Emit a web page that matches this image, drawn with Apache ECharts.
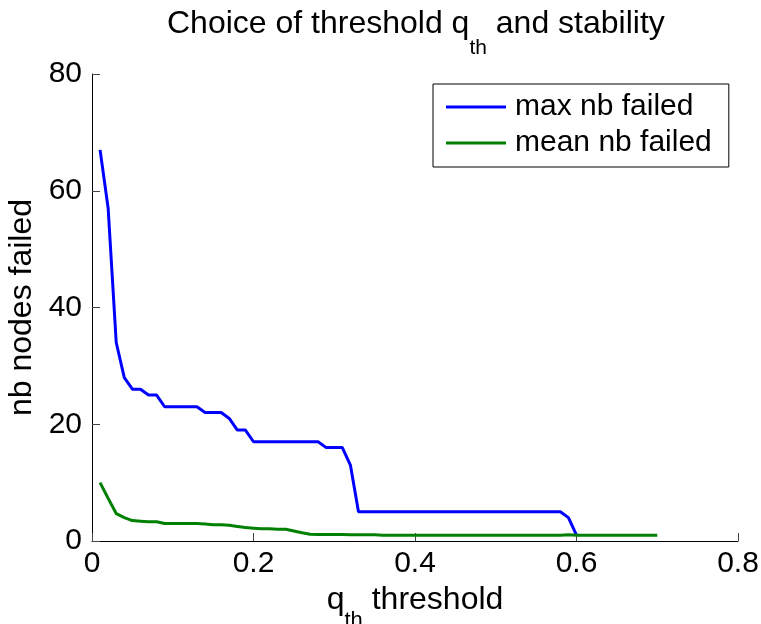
<!DOCTYPE html>
<html>
<head>
<meta charset="utf-8">
<script src="https://cdn.jsdelivr.net/npm/echarts@6/dist/echarts.min.js"></script>
<style>
  html, body { margin: 0; padding: 0; background: #fff; }
  #chart { width: 761px; height: 624px; }
</style>
</head>
<body>
<div id="chart"></div>
<script>
const qth = [
  0.01, 0.02, 0.03, 0.04, 0.05, 0.06, 0.07, 0.08, 0.09, 0.10,
  0.11, 0.12, 0.13, 0.14, 0.15, 0.16, 0.17, 0.18, 0.19, 0.20,
  0.21, 0.22, 0.23, 0.24, 0.25, 0.26, 0.27, 0.28, 0.29, 0.30,
  0.31, 0.32, 0.33, 0.34, 0.35, 0.36, 0.37, 0.38, 0.39, 0.40,
  0.41, 0.42, 0.43, 0.44, 0.45, 0.46, 0.47, 0.48, 0.49, 0.50,
  0.51, 0.52, 0.53, 0.54, 0.55, 0.56, 0.57, 0.58, 0.59, 0.60,
  0.61, 0.62, 0.63, 0.64, 0.65, 0.66, 0.67, 0.68, 0.69, 0.70
]

// max nb failed, 0.01 .. 0.60
const maxFailed = [
  67, 57, 34, 28, 26, 26, 25, 25, 23, 23,
  23, 23, 23, 22, 22, 22, 21, 19, 19, 17,
  17, 17, 17, 17, 17, 17, 17, 17, 16, 16,
  16, 13, 5, 5, 5, 5, 5, 5, 5, 5,
  5, 5, 5, 5, 5, 5, 5, 5, 5, 5,
  5, 5, 5, 5, 5, 5, 5, 5, 4, 1
]

// mean nb failed, 0.01 .. 0.70
const meanFailed = [
  10, 7.3, 4.7, 4.0, 3.5, 3.4, 3.3, 3.3, 3.0, 3.0,
  3.0, 3.0, 3.0, 2.9, 2.8, 2.8, 2.7, 2.5, 2.3, 2.2,
  2.1, 2.1, 2.0, 2.0, 1.7, 1.4, 1.15, 1.1, 1.1, 1.1,
  1.1, 1.05, 1.05, 1.05, 1.05, 1.0, 1.0, 1.0, 1.0, 1.0,
  1.0, 1.0, 1.0, 1.0, 1.0, 1.0, 1.0, 1.0, 1.0, 1.0,
  1.0, 1.0, 1.0, 1.0, 1.0, 1.0, 1.0, 1.0, 1.05, 1.0,
  1.0, 1.0, 1.0, 1.0, 1.0, 1.0, 1.0, 1.0, 1.0, 1.0
]

const xTicks = { min: 0, max: 0.8, interval: 0.2 }
const yTicks = { min: 0, max: 80, interval: 20 }

const font = 'Liberation Sans, Arial, Helvetica, sans-serif'

const chart = echarts.init(document.getElementById('chart'))

chart.setOption({
  animation: false,
  backgroundColor: '#fff',
  textStyle: { fontFamily: font },
  title: {
    text: '{a|Choice of threshold q}{sub|th}{a| and stability}',
    left: 167,
    top: 8,
    padding: 0,
    textStyle: {
      color: '#000',
      fontWeight: 'normal',
      fontFamily: font,
      rich: {
        a: { fontSize: 32, lineHeight: 36, verticalAlign: 'top', color: '#000', fontFamily: font },
        sub: { fontSize: 21, lineHeight: 21, verticalAlign: 'top', padding: [30, 0, 0, 0], color: '#000', fontFamily: font },
      },
    },
  },
  legend: {
    orient: 'vertical',
    left: 433,
    top: 84,
    padding: [5, 17, 6, 13],
    itemWidth: 60,
    itemHeight: 3,
    itemGap: 0,
    icon: 'rect',
    borderColor: '#000',
    borderWidth: 1,
    borderRadius: 0,
    textStyle: { fontSize: 30, lineHeight: 36, color: '#000', fontFamily: font, padding: [0, 0, 0, 4] },
    data: ['max nb failed', 'mean nb failed'],
  },
  grid: { left: 92, right: 23, top: 74, bottom: 83, containLabel: false, outerBoundsMode: 'none' },
  xAxis: {
    type: 'value',
    min: xTicks.min,
    max: xTicks.max,
    interval: xTicks.interval,
    name: '{a|q}{sub|th}{a| threshold}',
    nameLocation: 'middle',
    nameGap: 39,
    nameTextStyle: {
      color: '#000',
      fontFamily: font,
      rich: {
        a: { fontSize: 32, lineHeight: 38, verticalAlign: 'top', color: '#000', fontFamily: font },
        sub: { fontSize: 22, lineHeight: 22, verticalAlign: 'top', padding: [26, 0, 0, 0], color: '#000', fontFamily: font },
      },
    },
    axisLine: { lineStyle: { color: '#000', width: 1 } },
    axisTick: { inside: true, length: 8, lineStyle: { color: '#444' } },
    axisLabel: { fontSize: 30, color: '#000', margin: 8, fontFamily: font },
    splitLine: { show: false },
  },
  yAxis: {
    type: 'value',
    min: yTicks.min,
    max: yTicks.max,
    interval: yTicks.interval,
    name: 'nb nodes failed',
    nameLocation: 'middle',
    nameGap: 50,
    nameTextStyle: { fontSize: 32, color: '#000', fontFamily: font },
    axisLine: { show: true, lineStyle: { color: '#000', width: 1 } },
    axisTick: { show: true, inside: true, length: 8, lineStyle: { color: '#444' } },
    axisLabel: { fontSize: 30, color: '#000', margin: 10, fontFamily: font },
    splitLine: { show: false },
  },
  series: [
    {
      name: 'max nb failed',
      type: 'line',
      showSymbol: false,
      symbol: 'none',
      data: maxFailed.map((v, i) => [qth[i], v]),
      itemStyle: { color: '#0000ff' },
      lineStyle: { color: '#0000ff', width: 3 },
    },
    {
      name: 'mean nb failed',
      type: 'line',
      showSymbol: false,
      symbol: 'none',
      data: meanFailed.map((v, i) => [qth[i], v]),
      itemStyle: { color: '#008000' },
      lineStyle: { color: '#008000', width: 3 },
    },
  ],
})
</script>
</body>
</html>
